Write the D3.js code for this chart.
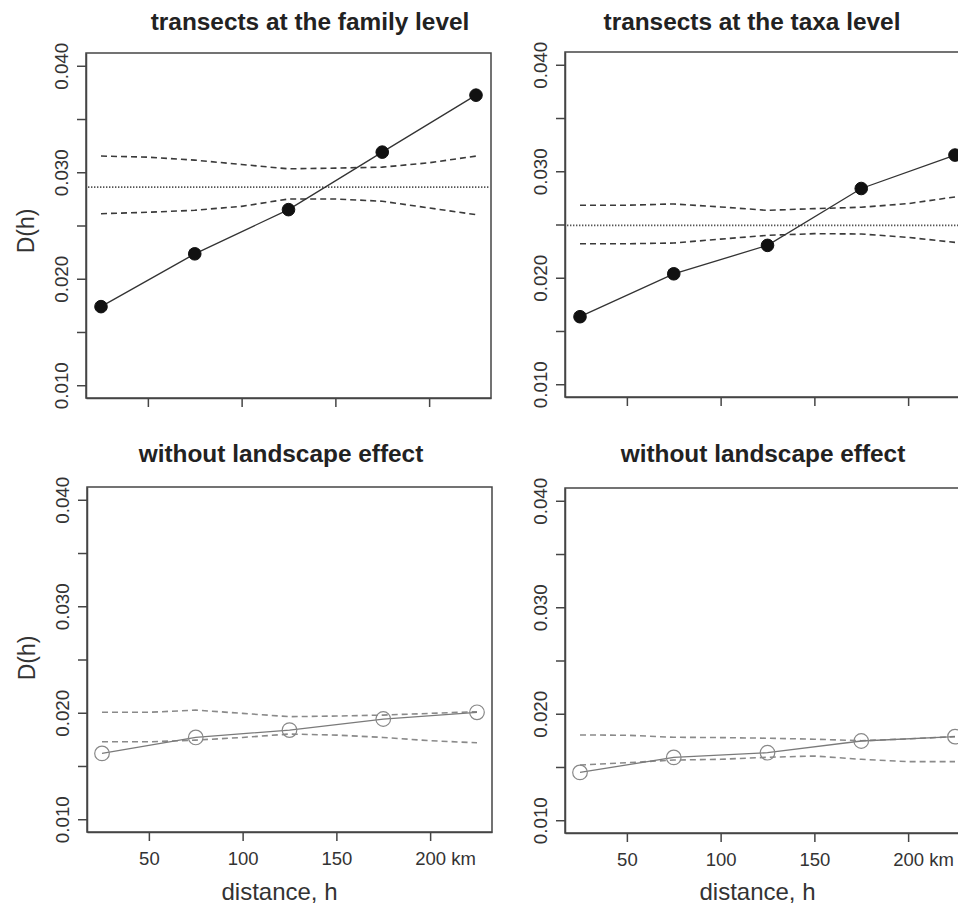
<!DOCTYPE html>
<html>
<head>
<meta charset="utf-8">
<script src="https://cdn.jsdelivr.net/npm/d3@7/dist/d3.min.js"></script>
<style>
  html, body { margin: 0; padding: 0; background: #fff; }
  svg { display: block; font-family: "Liberation Sans", Arial, sans-serif; }
</style>
</head>
<body>
<svg id="chart" width="958" height="905"></svg>
<script>
// ---------- data ----------
const distances = [25, 75, 125, 175, 225];
const envDistances = [25, 50, 75, 100, 125, 150, 175, 200, 225];
const xTicks = [50, 100, 150, 200];
const yTicks = [0.010, 0.015, 0.020, 0.025, 0.030, 0.035, 0.040];
const titles = ["transects at the family level", "transects at the taxa level",
                "without landscape effect", "without landscape effect"];

const familyD     = [0.01738, 0.02234, 0.02649, 0.03189, 0.03724];
const familyMean  = 0.02860;
const familyUpper = [0.03152, 0.03142, 0.03114, 0.03073, 0.03032, 0.03039, 0.03048, 0.03089, 0.03152];
const familyLower = [0.02611, 0.02624, 0.02643, 0.02680, 0.02749, 0.02749, 0.02728, 0.02665, 0.02602];

const taxaD     = [0.01634, 0.02037, 0.02304, 0.02838, 0.03152];
const taxaMean  = 0.02492;
const taxaUpper = [0.02681, 0.02681, 0.02693, 0.02665, 0.02633, 0.02649, 0.02662, 0.02696, 0.02759];
const taxaLower = [0.02319, 0.02319, 0.02326, 0.02363, 0.02398, 0.02414, 0.02411, 0.02379, 0.02332];

const nullFamilyD     = [0.01618, 0.01768, 0.01837, 0.01941, 0.02004];
const nullFamilyUpper = [0.02004, 0.02004, 0.02025, 0.01994, 0.01963, 0.01969, 0.01978, 0.01994, 0.02010];
const nullFamilyLower = [0.01727, 0.01727, 0.01743, 0.01768, 0.01800, 0.01790, 0.01768, 0.01737, 0.01718];

const nullTaxaD     = [0.01449, 0.01590, 0.01634, 0.01744, 0.01785];
const nullTaxaUpper = [0.01801, 0.01798, 0.01779, 0.01776, 0.01770, 0.01761, 0.01747, 0.01764, 0.01785];
const nullTaxaLower = [0.01518, 0.01540, 0.01565, 0.01572, 0.01591, 0.01603, 0.01572, 0.01550, 0.01550];

// ---------- layout ----------
const W = 405, H = 345;
const panels = [
  { left: 86,  top: 53,  title: titles[0], tx: 310, ty: 30,  D: familyD, up: familyUpper, lo: familyLower, mean: familyMean, filled: true,  ylab: true,  xlab: false, ylabY: 231 },
  { left: 565, top: 52,  title: titles[1], tx: 752, ty: 30,  D: taxaD, up: taxaUpper, lo: taxaLower, mean: taxaMean, filled: true,  ylab: false, xlab: false },
  { left: 87,  top: 487, title: titles[2], tx: 281, ty: 462, D: nullFamilyD, up: nullFamilyUpper, lo: nullFamilyLower, mean: null, filled: false, ylab: true, xlab: true, ylabY: 658 },
  { left: 565, top: 488, title: titles[3], tx: 763, ty: 462, D: nullTaxaD, up: nullTaxaUpper, lo: nullTaxaLower, mean: null, filled: false, ylab: false, xlab: true }
];

const svg = d3.select("#chart");
const axisCol = "#454545";

panels.forEach(p => {
  const x = d3.scaleLinear().domain([17, 233]).range([0, W]);
  const y = d3.scaleLinear().domain([0.0088, 0.0412]).range([H, 0]);
  const g = svg.append("g").attr("transform", `translate(${p.left},${p.top})`);

  // title
  svg.append("text").attr("x", p.tx).attr("y", p.ty)
    .attr("text-anchor", "middle").attr("font-weight", "bold")
    .attr("font-size", 24.4).attr("fill", "#222").text(p.title);

  // box
  g.append("rect").attr("width", W).attr("height", H)
    .attr("fill", "none").attr("stroke", axisCol).attr("stroke-width", 1.5);

  // y axis
  const ya = g.append("g").call(
    d3.axisLeft(y).tickValues(yTicks).tickSize(9).tickSizeOuter(0)
      .tickFormat(v => (Math.round(v * 1000) % 10 === 0) ? d3.format(".3f")(v) : ""));
  ya.select(".domain").attr("stroke", axisCol).attr("stroke-width", 1.5);
  ya.selectAll(".tick line").attr("stroke", axisCol).attr("stroke-width", 1.5);
  ya.selectAll(".tick text")
    .attr("transform", "rotate(-90)").attr("x", 0).attr("y", -18.5).attr("dy", 0)
    .attr("text-anchor", "middle").attr("font-size", 18.8).attr("fill", "#333")
    .style("font-family", "Liberation Sans, Arial, sans-serif");

  // x axis
  const xa = g.append("g").attr("transform", `translate(0,${H})`).call(
    d3.axisBottom(x).tickValues(xTicks).tickSize(9).tickSizeOuter(0)
      .tickFormat(p.xlab ? (d => String(d)) : ""));
  xa.select(".domain").attr("stroke", axisCol).attr("stroke-width", 1.5);
  xa.selectAll(".tick line").attr("stroke", axisCol).attr("stroke-width", 1.5);
  xa.selectAll(".tick text")
    .attr("y", 33).attr("dy", 0).attr("font-size", 18.5).attr("fill", "#333")
    .style("font-family", "Liberation Sans, Arial, sans-serif");
  if (p.xlab) {
    xa.selectAll(".tick text").filter(d => d === 200).each(function() {
      const t = d3.select(this);
      const w = this.getComputedTextLength();
      t.attr("text-anchor", "start").attr("x", -w / 2).text("200 km");
    });
    svg.append("text").attr("x", p.left + W / 2 - 10).attr("y", 900)
      .attr("text-anchor", "middle").attr("font-size", 24).attr("fill", "#333")
      .text("distance, h");
  }

  if (p.ylab) {
    svg.append("text").attr("transform", `translate(${p.left - 52.5},${p.ylabY}) rotate(-90)`)
      .attr("text-anchor", "middle").attr("font-size", 23).attr("fill", "#333")
      .text("D(h)");
  }

  const lineCol = p.filled ? "#333" : "#7a7a7a";
  const dashCol = p.filled ? "#3a3a3a" : "#8a8a8a";

  // mean (dotted) line
  if (p.mean !== null) {
    g.append("line").attr("x1", 2).attr("x2", W - 2)
      .attr("y1", y(p.mean)).attr("y2", y(p.mean))
      .attr("stroke", "#555").attr("stroke-width", 1.6).attr("stroke-dasharray", "1.4,1.6");
  }

  // envelopes
  const envLine = d3.line().x((d, i) => x(envDistances[i])).y(d => y(d));
  [p.up, p.lo].forEach(arr => {
    g.append("path").attr("d", envLine(arr)).attr("fill", "none")
      .attr("stroke", dashCol).attr("stroke-width", 1.6).attr("stroke-dasharray", "6,4");
  });

  // observed line
  const obsLine = d3.line().x((d, i) => x(distances[i])).y(d => y(d));
  g.append("path").attr("d", obsLine(p.D)).attr("fill", "none")
    .attr("stroke", lineCol).attr("stroke-width", 1.3);

  // points
  g.selectAll("circle.pt").data(p.D).enter().append("circle")
    .attr("class", "pt")
    .attr("cx", (d, i) => x(distances[i])).attr("cy", d => y(d))
    .attr("r", p.filled ? 6.3 : 7.3)
    .attr("fill", p.filled ? "#111" : "none")
    .attr("stroke", p.filled ? "#111" : "#888")
    .attr("stroke-width", p.filled ? 1 : 1.2);
});
</script>
</body>
</html>
